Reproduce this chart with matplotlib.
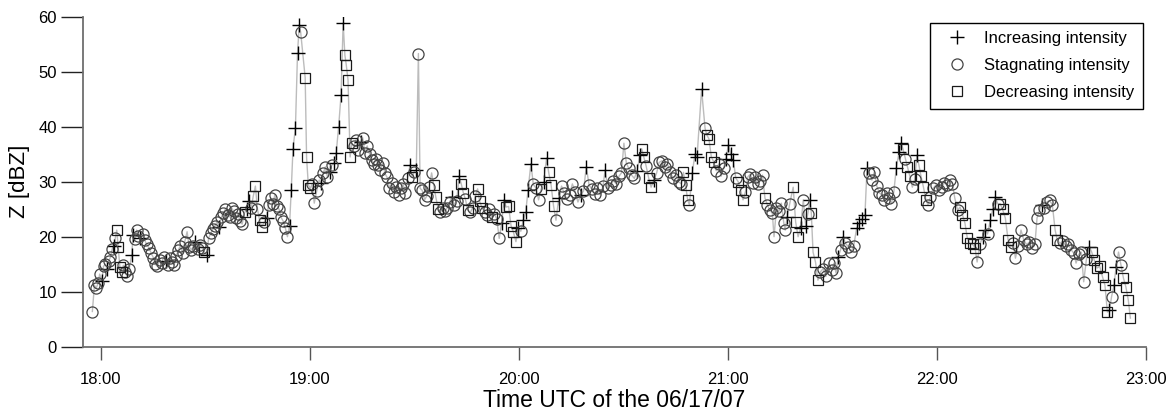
import matplotlib
matplotlib.use("Agg")
import matplotlib.pyplot as plt
from matplotlib import font_manager as fm

# minutes after 18:00 UTC, reflectivity (dBZ), intensity trend class
minutes = [
 -2.4,-1.8,-1.3,-0.8,-0.3,0.3,0.8,1.3,1.8,2.3,2.8,3.3,3.8,4.2,4.6,5.0,5.5,6.0,6.5,7.0,
 7.6,8.2,8.9,9.3,9.8,10.3,10.8,11.4,12.0,12.6,13.2,13.8,14.5,15.1,15.7,16.3,16.9,17.5,18.1,18.7,
 19.3,19.9,20.5,21.1,21.7,22.3,22.9,23.5,24.1,24.8,25.4,26.0,26.6,27.2,27.8,28.4,29.0,29.7,30.4,31.0,
 31.6,32.2,32.8,33.4,34.0,34.6,35.2,35.8,36.4,37.0,37.6,38.2,38.8,39.4,40.0,40.6,41.3,42.0,42.6,43.2,
 43.8,44.4,45.0,45.6,46.2,46.9,47.6,48.2,48.8,49.4,50.0,50.6,51.2,51.8,52.4,53.0,53.6,54.2,54.7,55.2,
 55.9,56.5,57.0,57.4,58.7,59.1,59.6,60.2,60.7,61.3,62.0,62.7,63.3,63.9,64.5,65.1,65.7,66.3,67.0,67.6,
 68.3,69.0,69.6,70.1,70.5,71.0,71.6,72.1,72.7,73.3,74.0,74.6,75.2,75.9,76.5,77.2,77.8,78.4,79.0,79.7,
 80.3,81.0,81.6,82.2,82.9,83.5,84.2,84.8,85.5,86.1,86.8,87.4,88.1,88.8,89.4,90.0,90.6,91.2,91.7,92.3,
 93.0,93.6,94.3,95.0,95.6,96.2,96.9,97.5,98.2,98.9,99.5,100.2,100.8,101.5,102.2,102.9,103.5,104.1,104.7,105.4,
 106.1,106.8,107.5,108.2,108.8,109.5,110.2,110.9,111.6,112.3,113.0,113.7,114.4,115.1,115.8,116.4,117.1,117.8,118.5,119.2,
 119.9,120.6,121.3,122.0,122.7,123.5,124.2,125.0,125.7,126.4,127.2,128.0,128.6,129.3,130.0,130.7,131.5,132.3,133.0,133.8,
 134.6,135.4,136.2,137.0,137.8,138.6,139.4,140.2,141.0,141.8,142.6,143.4,144.2,144.8,145.6,146.4,147.2,148.0,148.8,149.5,
 150.2,150.9,151.6,152.4,153.2,154.0,154.8,155.3,155.9,156.6,157.3,158.0,158.8,159.6,160.3,161.1,161.9,162.7,163.5,164.3,
 165.1,165.9,166.7,167.3,167.9,168.5,169.0,169.8,170.6,171.2,172.5,173.5,174.0,174.6,175.3,176.0,176.7,177.4,178.1,178.8,
 179.5,180.2,180.9,181.6,182.3,183.0,183.7,184.4,185.1,185.8,186.5,187.2,187.9,188.6,189.3,190.0,190.7,191.4,192.1,192.8,
 193.3,194.0,194.7,195.4,196.1,196.5,197.1,197.8,198.8,199.5,200.2,200.9,201.7,202.4,203.0,203.6,204.0,204.5,205.2,205.9,
 206.6,207.4,208.2,209.0,209.8,210.5,211.1,211.7,212.4,213.1,213.8,214.6,215.4,216.2,217.0,217.8,218.6,219.4,220.0,220.7,
 221.4,222.1,222.8,223.5,224.2,224.9,225.6,226.3,227.0,227.7,228.4,229.2,229.8,230.3,231.0,231.6,232.3,233.0,233.7,234.3,
 234.9,235.5,236.2,236.9,237.5,238.2,239.0,239.8,240.6,241.4,242.2,243.0,243.8,244.5,245.2,246.0,246.7,247.4,248.1,248.8,
 249.5,250.3,251.0,251.6,252.4,253.2,254.0,254.6,255.4,256.1,256.8,257.5,258.2,258.9,259.7,260.5,261.3,262.0,262.6,263.4,
 264.2,265.0,265.8,266.6,267.4,268.2,268.8,269.5,270.1,270.8,271.6,272.4,273.2,274.0,274.6,275.4,276.2,277.0,277.8,278.6,
 279.4,280.0,280.8,281.5,282.2,283.0,283.8,284.5,285.2,286.0,286.8,287.6,288.3,289.0,289.6,290.2,290.9,291.5,292.2,292.9,
 293.6,294.3,295.0,295.6]

dbz = [
 6.4,11.2,10.6,11.5,13.2,12.0,14.6,15.0,14.2,15.6,16.3,17.8,18.4,19.8,21.2,18.2,14.5,13.6,14.8,13.5,
 12.8,14.2,16.7,20.3,19.5,21.2,20.2,19.8,20.4,19.4,18.6,18.0,17.0,16.2,15.0,14.6,15.8,15.2,16.4,15.6,
 14.8,16.1,15.4,14.9,16.5,17.6,18.4,17.0,19.0,20.9,18.2,17.6,18.3,19.1,17.8,18.5,18.0,17.3,16.7,19.8,
 20.6,21.4,22.0,22.7,21.8,23.5,24.3,25.0,24.0,23.6,25.2,24.6,23.4,24.2,22.8,22.3,24.4,25.0,26.4,25.2,
 27.4,29.2,25.0,23.0,21.8,22.6,23.4,25.8,27.0,26.0,27.6,25.6,25.0,23.5,22.8,21.6,20.0,22.0,28.5,36.0,
 39.8,53.4,58.5,57.2,48.9,34.4,29.4,28.8,29.6,26.1,28.3,30.3,29.7,31.6,32.7,30.8,31.8,33.0,33.4,35.2,
 40.0,45.8,58.8,53.0,51.2,48.5,34.5,37.0,36.4,37.6,35.8,37.2,38.0,35.2,36.5,35.0,34.0,33.2,34.2,33.0,
 32.2,33.4,31.5,30.8,28.8,29.7,28.2,29.0,27.6,28.8,29.6,28.0,30.6,33.0,30.9,31.8,32.2,53.3,28.8,28.4,
 26.7,27.4,29.0,31.6,29.4,27.2,25.0,24.4,25.2,24.6,25.3,26.3,27.2,25.8,26.5,31.0,29.6,28.0,26.8,24.8,
 24.4,25.3,27.4,28.7,26.4,25.2,24.5,24.0,25.0,23.6,24.2,23.2,19.7,22.5,26.7,25.4,25.5,22.0,20.8,19.1,
 21.6,21.0,23.0,24.4,28.5,33.3,29.5,28.8,26.7,28.6,30.0,34.3,31.7,29.4,25.6,23.0,27.0,29.2,28.0,26.8,
 27.6,29.6,28.2,26.3,27.6,28.3,32.7,29.4,28.6,27.8,28.8,27.6,29.2,32.1,28.8,29.4,30.2,29.6,31.0,31.6,
 37.0,33.4,32.4,31.2,30.6,32.0,34.8,36.0,34.5,32.8,30.7,29.0,30.3,31.6,33.5,33.8,32.6,33.2,31.8,30.6,
 31.2,30.0,29.6,31.7,29.4,26.7,25.8,31.5,35.0,34.5,46.8,39.7,38.5,37.8,34.5,33.6,32.0,33.2,31.0,32.4,
 34.2,36.7,35.0,34.0,30.7,30.0,28.5,26.7,28.2,30.9,31.4,29.8,30.8,29.6,30.2,31.2,27.0,25.8,24.8,24.3,
 20.0,25.2,24.6,26.1,22.5,21.2,23.6,26.0,29.0,22.7,20.0,21.5,26.7,22.0,24.2,26.7,24.3,17.2,15.4,12.1,
 13.6,14.2,12.8,15.2,14.0,15.2,13.4,16.3,17.6,20.0,18.8,18.2,17.2,18.4,21.5,22.4,23.2,24.0,32.5,31.5,
 30.3,31.8,29.2,28.0,27.6,26.7,27.9,27.0,26.0,28.2,32.5,35.4,37.0,36.0,34.2,32.7,31.0,29.0,30.4,34.8,
 33.0,31.0,29.0,26.7,25.8,27.2,28.8,29.4,28.4,29.0,29.8,29.4,30.3,29.6,27.0,24.8,25.4,24.0,22.5,19.7,
 18.8,18.6,18.0,15.4,18.6,20.0,21.2,20.5,23.0,25.0,27.2,26.0,26.0,25.0,23.4,19.4,18.2,18.8,16.1,18.4,
 21.2,19.4,18.6,19.0,18.0,18.6,23.4,24.8,25.8,25.2,26.3,26.6,25.8,21.2,19.4,18.8,19.2,18.4,18.6,17.6,
 17.0,15.2,16.8,17.2,11.8,16.0,18.2,17.2,15.8,14.3,14.6,12.7,11.2,6.3,6.6,9.1,11.2,14.5,17.2,14.8,
 12.5,10.9,8.5,5.2]

# i = increasing, s = stagnating, d = decreasing (one string per row of 20 points)
trend_rows = [
 "sssssississsisddddss",
 "ssiisssisssssssssssi",
 "sssssssssssssisssdis",
 "ssssisssssssssssdiis",
 "ddsddsissssssssssiii",
 "iiisddddssssisssisii",
 "iiidddddsssissssssss",
 "sssssssssssssidsisss",
 "ssssdddsssssissiddsd",
 "sssdddsssdsssiiddddd",
 "isiiiisssdiidddsisss",
 "ssssisissssssissssss",
 "sssssiiddsddisssssss",
 "sssdddsiiiisddddssss",
 "iiiisdddssssssssdsss",
 "ssssssisdddisisidddd",
 "sssssssisissssiiiiis",
 "ssssssssssiiidsddssi",
 "ddddssssssssssssdddd",
 "dddssiisiiisdddddsss",
 "ssssssssissssddsssss",
 "ssssssidddddddisiiss",
 "dddd",
]

legend_labels = ["Increasing intensity", "Stagnating intensity", "Decreasing intensity"]
tick_minutes = [0, 60, 120, 180, 240, 300]
tick_labels = ["18:00", "19:00", "20:00", "21:00", "22:00", "23:00"]
ytick_values = [0, 10, 20, 30, 40, 50, 60]

cats = list("".join(trend_rows).ljust(len(dbz), "s"))[:len(dbz)]

names = {f.name for f in fm.fontManager.ttflist}
narrow = "Liberation Sans Narrow" if "Liberation Sans Narrow" in names else "Liberation Sans"

fig = plt.figure(figsize=(11.68, 4.19), dpi=100)
ax = fig.add_axes([83.3/1168, 72.3/419, (1145.7-83.3)/1168, (402.3-72.3)/419])

ax.plot(minutes, dbz, color="#bcbcbc", lw=1.0, zorder=1)

styles = {
    "i": dict(marker="+", ms=10, mew=1.0, mec="black", mfc="none"),
    "s": dict(marker="o", ms=8, mew=0.9, mec="#444444", mfc="none"),
    "d": dict(marker="s", ms=7.5, mew=0.9, mec="#1a1a1a", mfc="none"),
}
handles = []
for key, lab in zip(["i", "s", "d"], legend_labels):
    xs = [m for m, c in zip(minutes, cats) if c == key]
    ys = [v for v, c in zip(dbz, cats) if c == key]
    h, = ax.plot(xs, ys, linestyle="none", label=lab, zorder=2, **styles[key])
    handles.append(h)

ax.set_xlim(-5, 300)
ax.set_ylim(0, 60)
ax.set_xticks(tick_minutes)
ax.set_xticklabels(tick_labels)
ax.set_yticks(ytick_values)

for s in ["top", "right"]:
    ax.spines[s].set_visible(False)
for s in ["left", "bottom"]:
    ax.spines[s].set_color("#6e6e6e")
    ax.spines[s].set_linewidth(1.3)

ax.tick_params(axis="x", direction="out", length=9.4, width=1.0, color="#555555",
               pad=9, labelsize=12)
ax.tick_params(axis="y", direction="out", length=15.5, width=1.0, color="#222222",
               pad=3.4, labelsize=12)
for lbl in ax.get_xticklabels() + ax.get_yticklabels():
    lbl.set_fontfamily(narrow)

ax.set_xlabel("Time UTC of the 06/17/07", fontsize=16.5, family=narrow, labelpad=1)
ax.set_ylabel("Z [dBZ]", fontsize=16, family=narrow, labelpad=6)

leg = fig.legend(handles=handles, loc="upper right",
                 bbox_to_anchor=(1143/1168, 1 - 23/419), borderaxespad=0,
                 frameon=True, fancybox=False, edgecolor="black", framealpha=1,
                 prop={"family": "Liberation Sans", "size": 12},
                 handlelength=2.2, handletextpad=0.55, labelspacing=0.72,
                 borderpad=0.5)
leg.get_frame().set_linewidth(1.0)

fig.savefig("out.png", dpi=100)
